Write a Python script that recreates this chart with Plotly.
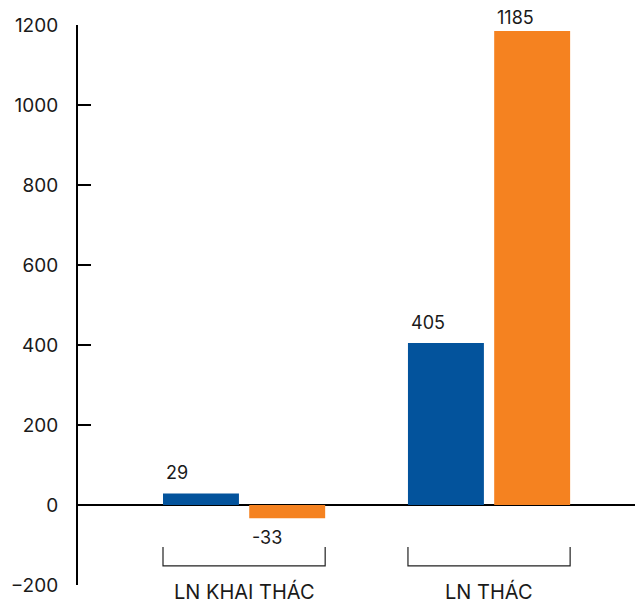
import plotly.graph_objects as go

categories = ["LN KHAI THÁC", "LN THÁC"]
series_a = [29, 405]
series_b = [-33, 1185]
tick_vals = [-200, 0, 200, 400, 600, 800, 1000, 1200]

BLUE = "#03539C"
ORANGE = "#F58220"
FONT = "Inter"
TXT = "#1a1a1a"

x_idx = list(range(len(categories)))
bar_w = 0.31
half_group = 0.331

fig = go.Figure()
fig.add_trace(go.Bar(x=x_idx, y=series_a, width=bar_w, offset=-half_group,
                     marker=dict(color=BLUE, line=dict(width=0)), showlegend=False))
fig.add_trace(go.Bar(x=x_idx, y=series_b, width=bar_w, offset=half_group - bar_w,
                     marker=dict(color=ORANGE, line=dict(width=0)), showlegend=False))

annotations = []
offsets = [-half_group, half_group - bar_w]
for series, off in zip([series_a, series_b], offsets):
    for i, v in zip(x_idx, series):
        annotations.append(dict(
            x=i + off, y=v, xref="x", yref="y", text=str(v), showarrow=False,
            xanchor="left", yanchor="bottom" if v >= 0 else "top",
            xshift=1, yshift=(8 if v >= 0 else -7) if v < 1000 else 1,
            font=dict(family=FONT, size=18, color=TXT)))

shapes = []
for i, c in zip(x_idx, categories):
    x0, x1 = i - half_group, i + half_group
    shapes.append(dict(type="path", xref="x", yref="y",
                       path=f"M {x0},-105 L {x0},-152 L {x1},-152 L {x1},-105",
                       line=dict(color="#222", width=1.2)))
    annotations.append(dict(x=i, y=-152, xref="x", yref="y", text=c, showarrow=False,
                            xanchor="center", yanchor="top", yshift=-11,
                            font=dict(family=FONT, size=20, color=TXT)))

fig.update_layout(
    width=643, height=606,
    margin=dict(l=70, r=14, t=17, b=29, autoexpand=False),
    paper_bgcolor="white", plot_bgcolor="white",
    barmode="overlay",
    font=dict(family=FONT, size=18, color=TXT),
    xaxis=dict(range=[-0.678, 1.604], showline=False, showticklabels=False,
               showgrid=False, zeroline=False, ticks="", automargin=False),
    yaxis=dict(range=[-200, 1200], tickvals=tick_vals, showgrid=False,
               showline=True, linecolor="black", linewidth=2,
               ticks="inside", ticklen=13, tickwidth=2, tickcolor="black",
               ticklabelstandoff=14, automargin=False,
               zeroline=True, zerolinecolor="black", zerolinewidth=2,
               tickfont=dict(family=FONT, size=19, color=TXT)),
    annotations=annotations, shapes=shapes,
)
fig.write_html("out.html")
